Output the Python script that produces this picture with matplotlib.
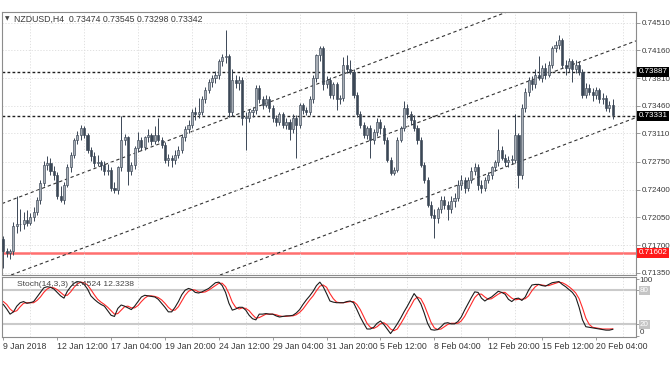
import numpy as np
import matplotlib
matplotlib.use("Agg")
import matplotlib.pyplot as plt

plt.rcParams['font.family'] = ['Liberation Sans', 'DejaVu Sans']

# NZDUSD H4 candles, 9 Jan 20:00 .. 21 Feb 00:00
opens = [
    0.7177, 0.7163, 0.7160, 0.7162, 0.7194, 0.7196, 0.7197, 0.7202, 0.7198, 0.7206,
    0.7212, 0.7227, 0.7249, 0.7271, 0.7274, 0.7263, 0.7258, 0.7232, 0.7227, 0.7246,
    0.7268, 0.7284, 0.7303, 0.7309, 0.7318, 0.7309, 0.7290, 0.7282, 0.7274, 0.7275,
    0.7271, 0.7263, 0.7265, 0.7242, 0.7240, 0.7268, 0.7303, 0.7306, 0.7263, 0.7271,
    0.7293, 0.7303, 0.7294, 0.7306, 0.7309, 0.7301, 0.7309, 0.7303, 0.7297, 0.7278,
    0.7280, 0.7278, 0.7284, 0.7290, 0.7306, 0.7316, 0.7322, 0.7338, 0.7335, 0.7338,
    0.7354, 0.7366, 0.7376, 0.7381, 0.7385, 0.7402, 0.7407, 0.7409, 0.7338, 0.7379,
    0.7375, 0.7379, 0.7331, 0.7331, 0.7338, 0.7341, 0.7369, 0.7354, 0.7347, 0.7354,
    0.7343, 0.7331, 0.7326, 0.7335, 0.7322, 0.7326, 0.7316, 0.7331, 0.7322, 0.7347,
    0.7341, 0.7338, 0.7354, 0.7381, 0.7410, 0.7419, 0.7373, 0.7379, 0.7360, 0.7373,
    0.7354, 0.7356, 0.7398, 0.7392, 0.7389, 0.7360, 0.7335, 0.7322, 0.7309, 0.7318,
    0.7303, 0.7313, 0.7326, 0.7318, 0.7303, 0.7278, 0.7261, 0.7265, 0.7303, 0.7318,
    0.7343, 0.7335, 0.7328, 0.7318, 0.7303, 0.7271, 0.7252, 0.7221, 0.7208, 0.7204,
    0.7215, 0.7227, 0.7221, 0.7215, 0.7225, 0.7230, 0.7246, 0.7252, 0.7242, 0.7252,
    0.7263, 0.7268, 0.7246, 0.7242, 0.7252, 0.7258, 0.7268, 0.7275, 0.7290, 0.7280,
    0.7275, 0.7278, 0.7278, 0.7309, 0.7258, 0.7343, 0.7364, 0.7379, 0.7373, 0.7385,
    0.7381, 0.7394, 0.7385, 0.7398, 0.7419, 0.7423, 0.7429, 0.7398, 0.7394, 0.7402,
    0.7392, 0.7398, 0.7389, 0.7360, 0.7369, 0.7364, 0.7359, 0.7366, 0.7354, 0.7356,
    0.7343, 0.73474,
]
highs = [
    0.7181, 0.7166, 0.7165, 0.7199, 0.7232, 0.7215, 0.7212, 0.7214, 0.7210, 0.7218,
    0.7231, 0.7252, 0.7276, 0.7283, 0.7280, 0.7270, 0.7262, 0.7245, 0.7250, 0.7272,
    0.7287, 0.7305, 0.7314, 0.7322, 0.7320, 0.7312, 0.7294, 0.7288, 0.7284, 0.7278,
    0.7276, 0.7272, 0.7268, 0.7250, 0.7270, 0.7333, 0.7310, 0.7308, 0.7275, 0.7295,
    0.7313, 0.7306, 0.7308, 0.7316, 0.7312, 0.7320, 0.7330, 0.7306, 0.7300, 0.7285,
    0.7284, 0.7290, 0.7295, 0.7310, 0.7320, 0.7328, 0.7342, 0.7344, 0.7356, 0.7358,
    0.7370, 0.7380, 0.7385, 0.7390, 0.7405, 0.7412, 0.7442, 0.7412, 0.7392, 0.7385,
    0.7384, 0.7382, 0.7338, 0.7342, 0.7344, 0.7372, 0.7372, 0.7358, 0.7360, 0.7358,
    0.7347, 0.7334, 0.7338, 0.7338, 0.7330, 0.7329, 0.7335, 0.7334, 0.7350, 0.7350,
    0.7345, 0.7358, 0.7385, 0.7412, 0.7421, 0.7422, 0.7384, 0.7382, 0.7376, 0.7376,
    0.7360, 0.7407, 0.7410, 0.7404, 0.7392, 0.7363, 0.7340, 0.7326, 0.7320, 0.7322,
    0.7316, 0.7330, 0.7329, 0.7322, 0.7306, 0.7281, 0.7268, 0.7306, 0.7320, 0.7352,
    0.7348, 0.7340, 0.7334, 0.7322, 0.7306, 0.7275, 0.7256, 0.7225, 0.7215, 0.7218,
    0.7232, 0.7232, 0.7225, 0.7232, 0.7236, 0.7252, 0.7258, 0.7256, 0.7256, 0.7268,
    0.7274, 0.7272, 0.7252, 0.7256, 0.7262, 0.7270, 0.7278, 0.7316, 0.7295, 0.7285,
    0.7282, 0.7284, 0.7335, 0.7312, 0.7348, 0.7368, 0.7382, 0.7384, 0.7392, 0.7409,
    0.7398, 0.7400, 0.7402, 0.7421, 0.7428, 0.7436, 0.7432, 0.7404, 0.7406, 0.7405,
    0.7404, 0.7402, 0.7392, 0.7375, 0.7374, 0.7368, 0.7370, 0.7369, 0.7362, 0.7360,
    0.7352, 0.73545,
]
lows = [
    0.7141, 0.7155, 0.7152, 0.7158, 0.7185, 0.7188, 0.7190, 0.7194, 0.7195, 0.7200,
    0.7208, 0.7222, 0.7245, 0.7265, 0.7258, 0.7252, 0.7228, 0.7224, 0.7222, 0.7243,
    0.7262, 0.7280, 0.7298, 0.7303, 0.7305, 0.7286, 0.7276, 0.7268, 0.7270, 0.7265,
    0.7258, 0.7258, 0.7238, 0.7236, 0.7235, 0.7264, 0.7296, 0.7246, 0.7258, 0.7266,
    0.7288, 0.7290, 0.7290, 0.7300, 0.7296, 0.7298, 0.7300, 0.7292, 0.7274, 0.7270,
    0.7268, 0.7272, 0.7280, 0.7286, 0.7302, 0.7312, 0.7318, 0.7328, 0.7330, 0.7334,
    0.7350, 0.7362, 0.7370, 0.7375, 0.7380, 0.7396, 0.7400, 0.7332, 0.7333, 0.7368,
    0.7366, 0.7322, 0.7290, 0.7325, 0.7332, 0.7336, 0.7350, 0.7342, 0.7344, 0.7338,
    0.7326, 0.7320, 0.7322, 0.7318, 0.7316, 0.7303, 0.7312, 0.7280, 0.7318, 0.7336,
    0.7334, 0.7334, 0.7350, 0.7376, 0.7402, 0.7366, 0.7368, 0.7356, 0.7355, 0.7341,
    0.7348, 0.7352, 0.7388, 0.7386, 0.7356, 0.7332, 0.7318, 0.7305, 0.7304, 0.7280,
    0.7298, 0.7308, 0.7310, 0.7298, 0.7275, 0.7258, 0.7258, 0.7262, 0.7300, 0.7314,
    0.7330, 0.7322, 0.7314, 0.7298, 0.7268, 0.7248, 0.7218, 0.7204, 0.7179, 0.7198,
    0.7210, 0.7216, 0.7202, 0.7210, 0.7218, 0.7226, 0.7240, 0.7236, 0.7238, 0.7248,
    0.7258, 0.7240, 0.7236, 0.7238, 0.7248, 0.7254, 0.7264, 0.7270, 0.7278, 0.7270,
    0.7268, 0.7272, 0.7274, 0.7242, 0.7254, 0.7338, 0.7358, 0.7366, 0.7368, 0.7378,
    0.7376, 0.7380, 0.7382, 0.7394, 0.7414, 0.7418, 0.7394, 0.7385, 0.7389, 0.7376,
    0.7388, 0.7385, 0.7356, 0.7356, 0.7360, 0.7352, 0.7354, 0.7350, 0.7348, 0.7340,
    0.7338, 0.73298,
]
closes = [
    0.7163, 0.7160, 0.7162, 0.7194, 0.7196, 0.7197, 0.7202, 0.7198, 0.7206, 0.7212,
    0.7227, 0.7249, 0.7271, 0.7274, 0.7263, 0.7258, 0.7232, 0.7227, 0.7246, 0.7268,
    0.7284, 0.7303, 0.7309, 0.7318, 0.7309, 0.7290, 0.7282, 0.7274, 0.7275, 0.7271,
    0.7263, 0.7265, 0.7242, 0.7240, 0.7268, 0.7303, 0.7306, 0.7263, 0.7271, 0.7293,
    0.7303, 0.7294, 0.7306, 0.7309, 0.7301, 0.7309, 0.7303, 0.7297, 0.7278, 0.7280,
    0.7278, 0.7284, 0.7290, 0.7306, 0.7316, 0.7322, 0.7338, 0.7335, 0.7338, 0.7354,
    0.7366, 0.7376, 0.7381, 0.7385, 0.7402, 0.7407, 0.7409, 0.7338, 0.7379, 0.7375,
    0.7379, 0.7331, 0.7331, 0.7338, 0.7341, 0.7369, 0.7354, 0.7347, 0.7354, 0.7343,
    0.7331, 0.7326, 0.7335, 0.7322, 0.7326, 0.7316, 0.7331, 0.7322, 0.7347, 0.7341,
    0.7338, 0.7354, 0.7381, 0.7410, 0.7419, 0.7373, 0.7379, 0.7360, 0.7373, 0.7354,
    0.7356, 0.7398, 0.7392, 0.7389, 0.7360, 0.7335, 0.7322, 0.7309, 0.7318, 0.7303,
    0.7313, 0.7326, 0.7318, 0.7303, 0.7278, 0.7261, 0.7265, 0.7303, 0.7318, 0.7343,
    0.7335, 0.7328, 0.7318, 0.7303, 0.7271, 0.7252, 0.7221, 0.7208, 0.7204, 0.7215,
    0.7227, 0.7221, 0.7215, 0.7225, 0.7230, 0.7246, 0.7252, 0.7242, 0.7252, 0.7263,
    0.7268, 0.7246, 0.7242, 0.7252, 0.7258, 0.7268, 0.7275, 0.7290, 0.7280, 0.7275,
    0.7278, 0.7278, 0.7309, 0.7258, 0.7343, 0.7364, 0.7379, 0.7373, 0.7385, 0.7381,
    0.7394, 0.7385, 0.7398, 0.7419, 0.7423, 0.7429, 0.7398, 0.7394, 0.7402, 0.7392,
    0.7398, 0.7389, 0.7360, 0.7369, 0.7364, 0.7359, 0.7366, 0.7354, 0.7356, 0.7343,
    0.7347, 0.73342,
]

# Stochastic(14,3,3): main line and signal line
stoch_k = [
    55, 47, 38, 42, 52, 58, 60, 57, 58, 60,
    68, 76, 84, 86, 85, 82, 76, 70, 66, 78,
    86, 92, 95, 94, 90, 82, 70, 64, 59, 55,
    52, 44, 36, 34, 48, 54, 52, 49, 46, 52,
    60, 68, 71, 70, 69, 68, 64, 57, 50, 42,
    42, 50, 60, 72, 80, 83, 81, 76, 75, 77,
    80, 83, 88, 93, 94, 88, 76, 57, 45, 47,
    50, 50, 45, 36, 30, 28, 38, 38, 39, 38,
    38, 35, 33, 34, 35, 35, 36, 40, 46, 55,
    63, 70, 78, 88, 94, 86, 74, 61, 59, 58,
    58, 58, 60, 61, 58, 46, 33, 22, 12, 12,
    15, 22, 26, 20, 12, 4, 12, 21, 31, 42,
    52, 63, 74, 66, 56, 40, 22, 11, 10, 11,
    16, 22, 23, 21, 21, 25, 33, 45, 56, 67,
    77, 76, 66, 61, 65, 68, 73, 78, 76, 73,
    64, 60, 65, 66, 62, 68, 80, 89, 90, 90,
    88, 87, 90, 93, 94, 95, 90, 86, 81, 76,
    68, 50, 28, 16, 15, 14, 13, 12, 11, 10,
    10, 11.4524,
]
stoch_d = [
    60, 55, 47, 42, 44, 51, 57, 58, 58, 58,
    62, 68, 76, 82, 85, 84, 81, 76, 71, 71,
    77, 85, 91, 94, 93, 89, 81, 72, 64, 59,
    55, 50, 44, 38, 39, 45, 51, 52, 49, 49,
    53, 60, 66, 70, 70, 69, 67, 63, 57, 50,
    45, 45, 51, 61, 71, 78, 81, 80, 77, 76,
    77, 80, 84, 88, 92, 92, 86, 74, 59, 50,
    47, 49, 48, 44, 37, 31, 32, 35, 38, 38,
    38, 37, 35, 34, 34, 35, 35, 37, 41, 47,
    55, 63, 70, 79, 87, 89, 85, 74, 65, 59,
    58, 58, 59, 60, 60, 55, 46, 34, 22, 15,
    13, 16, 21, 23, 19, 12, 9, 12, 21, 31,
    42, 52, 63, 68, 65, 54, 39, 24, 14, 11,
    12, 16, 20, 22, 22, 22, 26, 34, 45, 56,
    67, 73, 73, 68, 64, 65, 69, 73, 76, 76,
    71, 66, 63, 64, 64, 65, 70, 79, 86, 90,
    89, 88, 88, 90, 92, 94, 93, 90, 86, 81,
    75, 65, 49, 31, 20, 15, 14, 13, 12, 12,
    12, 12.3238,
]

price_ticks = [0.74510, 0.74160, 0.73810, 0.73460, 0.73110,
               0.72750, 0.72400, 0.72050, 0.71700, 0.71350]
date_labels = ["9 Jan 2018", "12 Jan 12:00", "17 Jan 04:00", "19 Jan 20:00",
               "24 Jan 12:00", "29 Jan 04:00", "31 Jan 20:00", "5 Feb 12:00",
               "8 Feb 04:00", "12 Feb 20:00", "15 Feb 12:00", "20 Feb 04:00"]
bars_per_label = 16

resistance = 0.73887
support = 0.73331
low_level = 0.71602
# channel trendlines: two anchor points each (bar index, price)
channels = [((0, 0.7223), (135, 0.7441)),
            ((6, 0.7138), (186, 0.7425)),
            ((68, 0.7138), (186, 0.7328))]

o = np.array(opens)
h = np.array(highs)
l = np.array(lows)
c = np.array(closes)
x = np.arange(len(c))

dark = '#3b4756'
light = '#a9afb7'
txt = '#3a3a3a'
fs = 6.3      # date labels / header
fs_r = 5.8    # right-hand price scale

fig = plt.figure(figsize=(6.72, 3.72), dpi=100)
ax = fig.add_axes([2 / 672, 1 - 275 / 372, 634 / 672, 263 / 372])
ax2 = fig.add_axes([2 / 672, 1 - 337 / 372, 634 / 672, 60 / 372], sharex=ax)

xmax = 187.9
for a in (ax, ax2):
    a.set_xlim(-0.4, xmax)
    for s in a.spines.values():
        s.set_color('#8c8c8c')
        s.set_linewidth(0.8)
    a.set_xticks(np.arange(0, xmax, 8), minor=True)
    a.grid(True, which='minor', axis='x', color='#dcdcdc', ls=(0, (1.5, 2)), lw=0.6)
    a.tick_params(which='minor', length=0)

# main price panel
ax.set_ylim(0.71321, 0.74645)
ax.yaxis.tick_right()
ax.set_yticks(price_ticks)
ax.set_yticklabels(['%.5f' % p for p in price_ticks])
ax.tick_params(axis='y', length=3, width=0.6, color='#8c8c8c', labelsize=fs_r,
               labelcolor=txt, pad=1)
ax.tick_params(axis='x', which='major', length=0, labelbottom=False)
ax.grid(True, which='major', axis='y', color='#dcdcdc', ls=(0, (1.5, 2)), lw=0.6)

ax.axhline(low_level, color='#ff6f6f', lw=1.8, zorder=1)
for lvl in (resistance, support):
    ax.axhline(lvl, color='#1e1e1e', lw=1.0, ls=(0, (2, 1.6)), zorder=1)
for p1, p2 in channels:
    ax.axline(p1, p2, color='#333333', lw=0.8, ls=(0, (3, 2.5)), zorder=1)

up = c >= o
ax.vlines(x, l, h, color=dark, lw=0.7, zorder=2)
body = np.maximum(np.abs(c - o), 0.00003)
ax.bar(x, body, bottom=np.minimum(o, c), width=0.62,
       color=np.where(up, light, dark), edgecolor=dark, linewidth=0.45, zorder=3)

yt = ax.get_yaxis_transform()
for val, bg in ((resistance, 'black'), (support, 'black'), (low_level, '#ff1a1a')):
    ax.text(1.004, val, '%.5f' % val, transform=yt, fontsize=fs_r, color='white',
            va='center', ha='left', zorder=5,
            bbox=dict(boxstyle='square,pad=0.2', fc=bg, ec='none'))

fig.text(5 / 672, 1 - 19 / 372, '\u25bc', fontsize=4.2, color='#444444', va='center',
         family='DejaVu Sans')
fig.text(14 / 672, 1 - 19 / 372, 'NZDUSD,H4  0.73474 0.73545 0.73298 0.73342',
         fontsize=fs, color=txt, va='center')

# stochastic panel
ax2.set_ylim(-2, 103)
ax2.axhline(80, color='#cacaca', lw=1.5, zorder=1)
ax2.axhline(20, color='#cacaca', lw=1.5, zorder=1)
ax2.plot(x, stoch_k, color='#1c1c1c', lw=0.8, zorder=3)
ax2.plot(x, stoch_d, color='#ff2a2a', lw=0.8, zorder=2)
ax2.yaxis.tick_right()
ax2.set_yticks([0, 20, 80, 100])
ax2.set_yticklabels([])
ax2.tick_params(axis='y', length=2, width=0.6, color='#8c8c8c')
yt2 = ax2.get_yaxis_transform()
ax2.text(1.006, 97, '100', transform=yt2, fontsize=fs_r, color=txt, va='center')
ax2.text(1.006, 5, '0', transform=yt2, fontsize=fs_r, color=txt, va='center')
for lv in (80, 20):
    ax2.text(1.006, lv, str(lv), transform=yt2, fontsize=fs_r, color='white',
             va='center', ha='left', zorder=5,
             bbox=dict(boxstyle='square,pad=0.12', fc='#c4c4c4', ec='none'))
ax2.text(4, 89, 'Stoch(14,3,3) 11.4524 12.3238', fontsize=fs - 0.2, color='#444444',
         va='center', ha='left')

ax2.set_xticks(np.arange(len(date_labels)) * bars_per_label)
ax2.set_xticklabels(date_labels)
ax2.tick_params(axis='x', which='major', length=2, width=0.6, color='#8c8c8c',
                labelsize=fs, labelcolor=txt, pad=1.5)
for lab in ax2.get_xticklabels():
    lab.set_ha('left')

fig.savefig('out.png', dpi=100, facecolor='white')
